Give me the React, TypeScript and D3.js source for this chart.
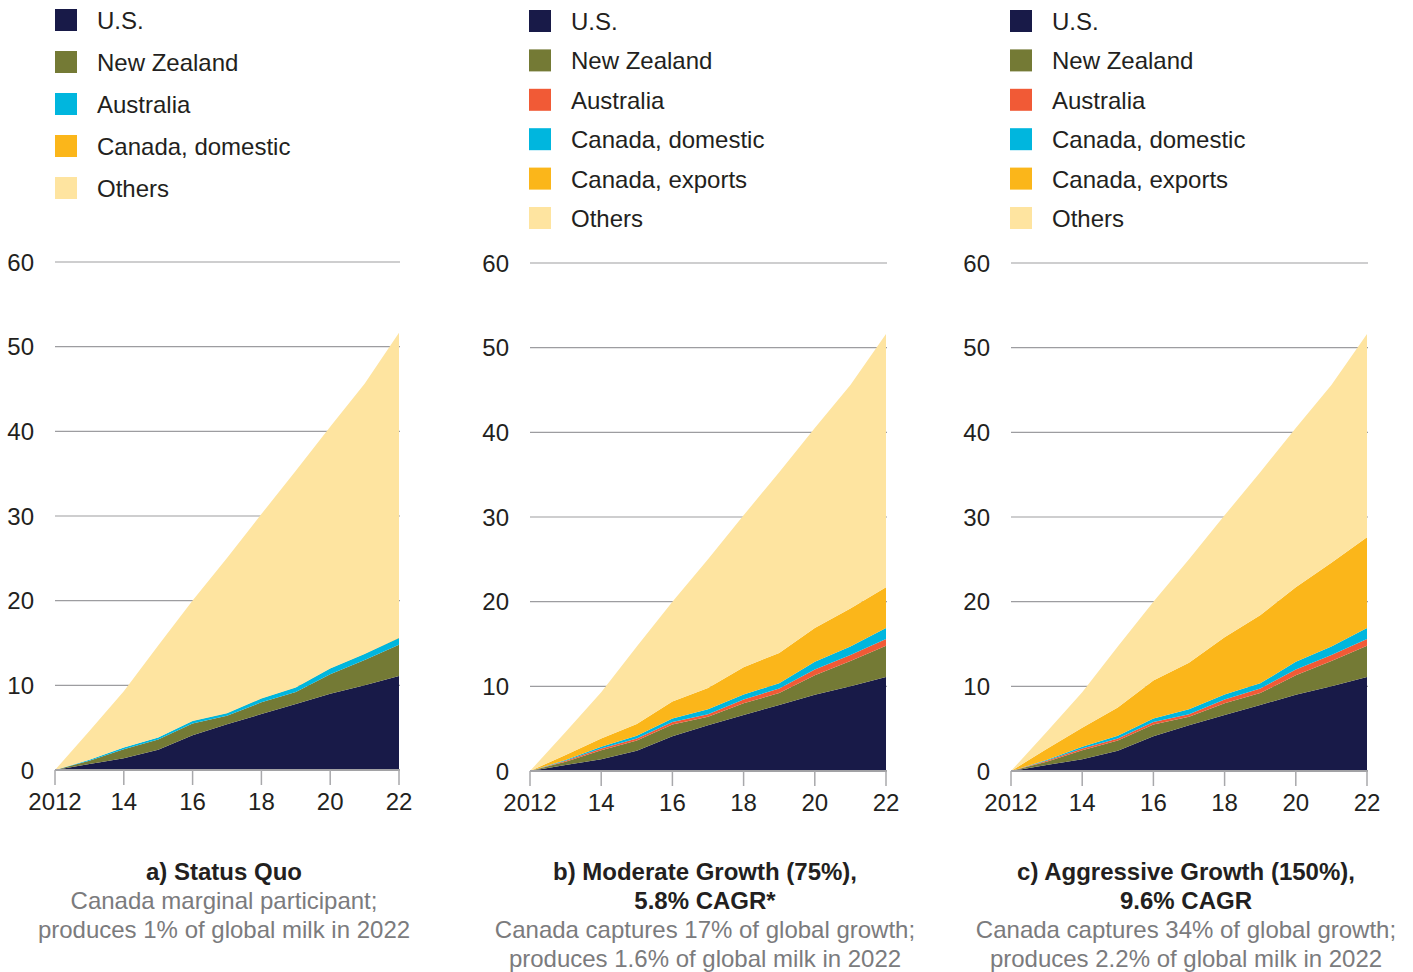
import React from "react";
import { scaleLinear, stack, area } from "d3";

const years = [2012, 2013, 2014, 2015, 2016, 2017, 2018, 2019, 2020, 2021, 2022];
const xTicks = [2012, 2014, 2016, 2018, 2020, 2022];
const xTickLabels = ["2012", "14", "16", "18", "20", "22"];
const yTicks = [0, 10, 20, 30, 40, 50, 60];

// growth since 2012, per region
const usValues = [0, 0.7, 1.4, 2.4, 4.1, 5.4, 6.6, 7.8, 9.0, 10.0, 11.1];
const nzValues = [0, 0.4, 1.05, 1.2, 1.4, 1.0, 1.4, 1.4, 2.3, 3.0, 3.7];
const ausValues = [0, 0.1, 0.2, 0.25, 0.3, 0.3, 0.45, 0.55, 0.7, 0.7, 0.8];

const canDomA = [0, 0, 0, 0, 0.03, 0.03, 0.03, 0.03, 0.03, 0.03, 0.05];
const othersA = [0, 3.4, 6.65, 10.85, 14.2, 18.3, 21.75, 25.55, 28.5, 31.9, 36.0];

const canDomGrowth = [0, 0.1, 0.2, 0.3, 0.4, 0.6, 0.6, 0.6, 0.9, 1.0, 1.3];
const canExpB = [0, 0.6, 1.0, 1.4, 2.0, 2.5, 3.2, 3.6, 4.0, 4.5, 4.8];
const othersB = [0, 2.7, 5.45, 9.15, 11.8, 15.2, 17.95, 21.35, 23.6, 26.4, 29.9];

const canExpC = [0, 1.3, 2.25, 3.35, 4.5, 5.5, 6.75, 8.05, 8.8, 9.9, 10.7];
const othersC = [0, 2.0, 4.2, 7.2, 9.3, 12.2, 14.4, 16.9, 18.8, 21.0, 24.0];

const NAVY = "#181a48";
const OLIVE = "#747a35";
const CYAN = "#00b6de";
const ORANGE = "#fbb61a";
const CREAM = "#fee4a0";
const RED = "#f15a36";

const FONT = "'Liberation Sans', Arial, Helvetica, sans-serif";
const TEXT = "#231f20";
const GREY_TEXT = "#7b7b7d";

type Layer = { label: string; color: string; values: number[] };

const panels = [
  {
    x0: 55, x1: 399, yBottom: 770, yTop: 262,
    legendTop: 9, legendStep: 42, legendX: 55,
    layers: [
      { label: "U.S.", color: NAVY, values: usValues },
      { label: "New Zealand", color: OLIVE, values: nzValues },
      { label: "Australia", color: CYAN, values: ausValues },
      { label: "Canada, domestic", color: ORANGE, values: canDomA },
      { label: "Others", color: CREAM, values: othersA },
    ] as Layer[],
    title: ["a) Status Quo"],
    sub: ["Canada marginal participant;", "produces 1% of global milk in 2022"],
  },
  {
    x0: 530, x1: 886, yBottom: 771, yTop: 263,
    legendTop: 10, legendStep: 39.4, legendX: 529,
    layers: [
      { label: "U.S.", color: NAVY, values: usValues },
      { label: "New Zealand", color: OLIVE, values: nzValues },
      { label: "Australia", color: RED, values: ausValues },
      { label: "Canada, domestic", color: CYAN, values: canDomGrowth },
      { label: "Canada, exports", color: ORANGE, values: canExpB },
      { label: "Others", color: CREAM, values: othersB },
    ] as Layer[],
    title: ["b) Moderate Growth (75%),", "5.8% CAGR*"],
    sub: ["Canada captures 17% of global growth;", "produces 1.6% of global milk in 2022"],
  },
  {
    x0: 1011, x1: 1367, yBottom: 771, yTop: 263,
    legendTop: 10, legendStep: 39.4, legendX: 1010,
    layers: [
      { label: "U.S.", color: NAVY, values: usValues },
      { label: "New Zealand", color: OLIVE, values: nzValues },
      { label: "Australia", color: RED, values: ausValues },
      { label: "Canada, domestic", color: CYAN, values: canDomGrowth },
      { label: "Canada, exports", color: ORANGE, values: canExpC },
      { label: "Others", color: CREAM, values: othersC },
    ] as Layer[],
    title: ["c) Aggressive Growth (150%),", "9.6% CAGR"],
    sub: ["Canada captures 34% of global growth;", "produces 2.2% of global milk in 2022"],
  },
];

function Panel({ p }: { p: (typeof panels)[number] }) {
  const x = scaleLinear().domain([2012, 2022]).range([p.x0, p.x1]);
  const y = scaleLinear().domain([0, 60]).range([p.yBottom, p.yTop]);

  const keys = p.layers.map((l, i) => `k${i}`);
  const rows = years.map((yr, i) => {
    const row: Record<string, number> = { year: yr };
    p.layers.forEach((l, j) => (row[`k${j}`] = l.values[i]));
    return row;
  });
  const series = stack<Record<string, number>>().keys(keys)(rows);
  const areaGen = area<any>()
    .x((d) => x(d.data.year))
    .y0((d) => y(d[0]))
    .y1((d) => y(d[1]));

  const cx = (p.x0 + p.x1) / 2 - 3;
  const captionLines = [
    ...p.title.map((t) => ({ t, bold: true })),
    ...p.sub.map((t) => ({ t, bold: false })),
  ];

  return (
    <g>
      {/* legend */}
      {p.layers.map((l, i) => (
        <g key={l.label} transform={`translate(${p.legendX},${p.legendTop + i * p.legendStep})`}>
          <rect width={22} height={22} fill={l.color} />
          <text x={42} y={20} fontSize={24} fill={TEXT}>
            {l.label}
          </text>
        </g>
      ))}

      {/* grid */}
      {yTicks.slice(1).map((t) => (
        <line key={t} x1={p.x0} x2={p.x1 + 1} y1={y(t)} y2={y(t)} stroke="#9d9da0" strokeWidth={1.2} />
      ))}
      {yTicks.map((t) => (
        <text key={t} x={p.x0 - 21} y={y(t) + 8.5} fontSize={24} fill={TEXT} textAnchor="end">
          {t}
        </text>
      ))}

      {/* areas */}
      {series.map((s, i) => (
        <path key={s.key} d={areaGen(s as any) ?? ""} fill={p.layers[i].color} />
      ))}

      {/* x axis */}
      <line x1={p.x0} x2={p.x1 + 1} y1={p.yBottom} y2={p.yBottom} stroke="#a2a2a5" strokeWidth={2} />
      {xTicks.map((t, i) => (
        <g key={t}>
          <line x1={x(t)} x2={x(t)} y1={p.yBottom} y2={p.yBottom + 15} stroke="#a8a8ab" strokeWidth={1.5} />
          <text x={x(t)} y={p.yBottom + 40} fontSize={24} fill={TEXT} textAnchor="middle">
            {xTickLabels[i]}
          </text>
        </g>
      ))}

      {/* caption */}
      {captionLines.map((c, i) => (
        <text
          key={i}
          x={cx}
          y={880 + i * 29}
          fontSize={24}
          textAnchor="middle"
          fontWeight={c.bold ? "bold" : "normal"}
          fill={c.bold ? TEXT : GREY_TEXT}
        >
          {c.t}
        </text>
      ))}
    </g>
  );
}

export default function App() {
  return (
    <svg
      width={1413}
      height={972}
      style={{ position: "absolute", left: 0, top: 0, background: "#fff", fontFamily: FONT }}
    >
      {panels.map((p, i) => (
        <Panel key={i} p={p} />
      ))}
    </svg>
  );
}
